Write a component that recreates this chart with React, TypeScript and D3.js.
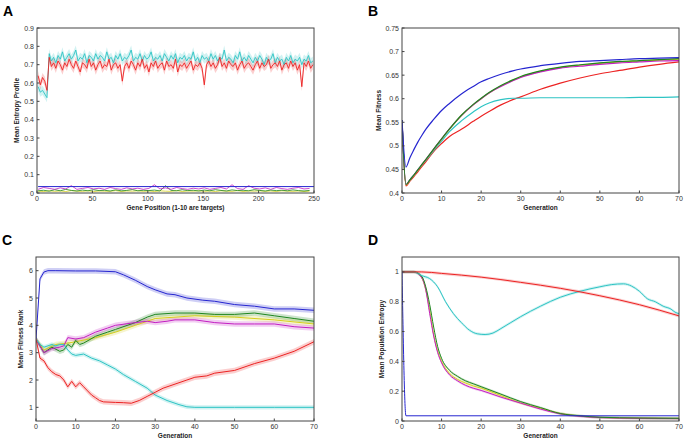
import React from 'react'
import * as d3 from 'd3'

// ---- Panel A: mean entropy profile along the gene ----
const genePos = d3.range(1, 250, 2)
const aCyan = [
  0.58, 0.55, 0.56, 0.54, 0.52,
  0.76, 0.72, 0.74, 0.71, 0.75, 0.73, 0.77, 0.72, 0.74, 0.76,
  0.73, 0.75, 0.78, 0.72, 0.74, 0.73, 0.76, 0.71, 0.75, 0.74,
  0.72, 0.76, 0.73, 0.75, 0.74, 0.72, 0.77, 0.73, 0.74, 0.71,
  0.75, 0.73, 0.76, 0.72, 0.74, 0.73, 0.75, 0.78, 0.72, 0.74,
  0.73, 0.76, 0.72, 0.75, 0.73, 0.74, 0.77, 0.72, 0.74, 0.73,
  0.75, 0.72, 0.76, 0.74, 0.72, 0.75, 0.73, 0.76, 0.71, 0.74,
  0.73, 0.75, 0.72, 0.74, 0.73, 0.77, 0.72, 0.74, 0.71, 0.75,
  0.73, 0.74, 0.72, 0.76, 0.73, 0.75, 0.72, 0.74, 0.73, 0.78,
  0.72, 0.74, 0.73, 0.71, 0.75, 0.73, 0.77, 0.72, 0.74, 0.72,
  0.75, 0.73, 0.71, 0.74, 0.72, 0.75, 0.73, 0.70, 0.74, 0.72,
  0.73, 0.76, 0.71, 0.74, 0.72, 0.73, 0.70, 0.74, 0.72, 0.75,
  0.71, 0.73, 0.72, 0.74, 0.70, 0.73, 0.72, 0.75, 0.71, 0.72,
]
const aRed = [
  0.64, 0.59, 0.63, 0.61, 0.56,
  0.74, 0.69, 0.71, 0.68, 0.72, 0.70, 0.67, 0.71, 0.69, 0.73,
  0.70, 0.68, 0.72, 0.69, 0.66, 0.71, 0.70, 0.68, 0.73, 0.69,
  0.71, 0.67, 0.70, 0.72, 0.68, 0.70, 0.69, 0.73, 0.67, 0.70,
  0.71, 0.68, 0.70, 0.61, 0.69, 0.71, 0.68, 0.72, 0.70, 0.67,
  0.71, 0.69, 0.73, 0.68, 0.70, 0.66, 0.71, 0.69, 0.72, 0.68,
  0.70, 0.71, 0.67, 0.72, 0.69, 0.70, 0.68, 0.73, 0.66, 0.70,
  0.69, 0.71, 0.68, 0.70, 0.72, 0.67, 0.70, 0.69, 0.71, 0.68,
  0.59, 0.70, 0.72, 0.69, 0.71, 0.68, 0.70, 0.74, 0.69, 0.71,
  0.68, 0.72, 0.70, 0.69, 0.71, 0.67, 0.70, 0.72, 0.68, 0.70,
  0.71, 0.69, 0.67, 0.70, 0.72, 0.68, 0.71, 0.69, 0.70, 0.73,
  0.68, 0.70, 0.71, 0.69, 0.72, 0.67, 0.70, 0.71, 0.68, 0.72,
  0.69, 0.71, 0.67, 0.70, 0.58, 0.71, 0.69, 0.72, 0.68, 0.70,
]
const genePosLow = d3.range(1, 251, 5)
const aMagenta = [
  0.02, 0.03, 0.025, 0.02, 0.028, 0.022, 0.04, 0.02, 0.025, 0.03,
  0.022, 0.026, 0.02, 0.03, 0.024, 0.02, 0.028, 0.022, 0.026, 0.02,
  0.025, 0.045, 0.022, 0.028, 0.02, 0.03, 0.024, 0.02, 0.026, 0.022,
  0.028, 0.02, 0.025, 0.03, 0.022, 0.045, 0.024, 0.02, 0.04, 0.026,
  0.022, 0.028, 0.02, 0.03, 0.024, 0.02, 0.026, 0.03, 0.022, 0.025,
]
const aGreen = [
  0.012, 0.015, 0.01, 0.018, 0.012, 0.02, 0.014, 0.011, 0.016, 0.012,
  0.018, 0.013, 0.015, 0.011, 0.017, 0.012, 0.014, 0.019, 0.012, 0.015,
  0.013, 0.016, 0.011, 0.04, 0.014, 0.012, 0.018, 0.013, 0.015, 0.011,
  0.016, 0.012, 0.018, 0.014, 0.011, 0.017, 0.013, 0.015, 0.012, 0.018,
  0.014, 0.011, 0.016, 0.013, 0.015, 0.012, 0.017, 0.013, 0.011, 0.014,
]
const aYellow = [
  0.01, 0.008, 0.012, 0.009, 0.011, 0.008, 0.013, 0.01, 0.009, 0.012,
  0.008, 0.011, 0.01, 0.009, 0.013, 0.008, 0.011, 0.01, 0.012, 0.009,
  0.011, 0.008, 0.012, 0.01, 0.009, 0.013, 0.008, 0.011, 0.01, 0.012,
  0.009, 0.011, 0.008, 0.012, 0.01, 0.009, 0.013, 0.008, 0.011, 0.01,
  0.012, 0.009, 0.011, 0.008, 0.012, 0.01, 0.009, 0.011, 0.008, 0.01,
]
const aBluePos = [1, 250]
const aBlue = [0.035, 0.035]

// ---- Panel B: mean fitness ----
const bGen = [0, 1, 2, 3, 4, 5, 6, 8, 10, 12, 15, 18, 20, 22, 25, 28, 30, 35, 40, 45, 50, 55, 60, 65, 70]
const bBlue = [0.555, 0.455, 0.475, 0.492, 0.508, 0.522, 0.535, 0.556, 0.575, 0.59, 0.61, 0.626, 0.636, 0.643, 0.652, 0.659, 0.663, 0.67, 0.675, 0.679, 0.681, 0.683, 0.685, 0.686, 0.687]
const bGreen = [0.555, 0.418, 0.428, 0.438, 0.449, 0.46, 0.471, 0.493, 0.515, 0.536, 0.565, 0.588, 0.601, 0.613, 0.628, 0.64, 0.647, 0.659, 0.667, 0.672, 0.676, 0.679, 0.681, 0.683, 0.685]
const bYellow = [0.555, 0.417, 0.427, 0.437, 0.448, 0.459, 0.47, 0.492, 0.514, 0.535, 0.564, 0.587, 0.6, 0.612, 0.627, 0.639, 0.646, 0.658, 0.666, 0.671, 0.675, 0.678, 0.68, 0.682, 0.684]
const bMagenta = [0.555, 0.418, 0.428, 0.438, 0.449, 0.46, 0.471, 0.493, 0.515, 0.536, 0.564, 0.587, 0.6, 0.612, 0.626, 0.638, 0.645, 0.657, 0.665, 0.669, 0.673, 0.676, 0.678, 0.68, 0.681]
const bCyan = [0.555, 0.418, 0.428, 0.438, 0.449, 0.459, 0.469, 0.49, 0.51, 0.53, 0.553, 0.572, 0.583, 0.591, 0.598, 0.601, 0.601, 0.602, 0.602, 0.602, 0.602, 0.602, 0.603, 0.603, 0.604]
const bRed = [0.555, 0.415, 0.425, 0.435, 0.445, 0.456, 0.466, 0.488, 0.505, 0.52, 0.535, 0.552, 0.563, 0.573, 0.587, 0.598, 0.604, 0.62, 0.633, 0.644, 0.653, 0.66, 0.667, 0.673, 0.678]

// ---- Panel C: mean fitness rank ----
const cBlueGen = [0, 1, 2, 3, 5, 10, 15, 20, 22, 25, 28, 30, 33, 35, 38, 42, 45, 50, 55, 60, 65, 70]
const cBlue = [3.5, 5.7, 5.95, 6.0, 6.0, 5.99, 5.99, 5.96, 5.85, 5.65, 5.42, 5.3, 5.15, 5.12, 5.0, 4.92, 4.88, 4.76, 4.7, 4.6, 4.6, 4.55]
const cGreenGen = [0, 2, 4, 6, 7, 8, 9, 10, 11, 12, 15, 18, 20, 25, 28, 30, 35, 40, 45, 50, 55, 60, 65, 70]
const cGreen = [3.5, 3.0, 3.2, 3.05, 3.1, 3.3, 3.2, 3.45, 3.3, 3.35, 3.6, 3.75, 3.85, 4.1, 4.3, 4.4, 4.45, 4.45, 4.4, 4.4, 4.45, 4.35, 4.25, 4.15]
const cYellowGen = [0, 2, 5, 8, 10, 15, 20, 25, 30, 35, 40, 50, 60, 70]
const cYellow = [3.5, 3.1, 3.3, 3.35, 3.4, 3.55, 3.75, 4.0, 4.25, 4.3, 4.35, 4.3, 4.2, 4.05]
const cMagentaGen = [0, 2, 4, 6, 7, 8, 10, 12, 15, 18, 20, 25, 28, 30, 33, 35, 40, 45, 50, 55, 60, 65, 70]
const cMagenta = [3.5, 3.0, 3.15, 3.2, 3.25, 3.55, 3.5, 3.55, 3.75, 3.9, 4.0, 4.1, 4.15, 4.1, 4.15, 4.2, 4.2, 4.1, 4.05, 4.05, 4.05, 3.95, 3.9]
const cCyanGen = [0, 1, 2, 3, 4, 5, 6, 7, 8, 9, 10, 12, 14, 16, 18, 20, 22, 25, 28, 30, 33, 36, 38, 40, 50, 60, 70]
const cCyan = [3.5, 3.3, 3.2, 3.25, 3.3, 3.25, 3.3, 3.3, 3.1, 2.95, 2.9, 2.95, 2.8, 2.7, 2.55, 2.4, 2.2, 1.95, 1.7, 1.45, 1.25, 1.1, 1.02, 1.0, 1.0, 1.0, 1.0]
const cRedGen = [0, 1, 2, 3, 4, 5, 6, 7, 8, 9, 10, 11, 12, 13, 14, 15, 16, 17, 20, 22, 24, 26, 28, 30, 32, 35, 38, 40, 43, 45, 50, 55, 60, 65, 70]
const cRed = [3.5, 2.8, 2.7, 2.45, 2.3, 2.2, 2.15, 2.0, 1.75, 1.95, 1.75, 1.9, 1.75, 1.6, 1.45, 1.35, 1.25, 1.2, 1.18, 1.17, 1.15, 1.25, 1.4, 1.55, 1.7, 1.85, 2.0, 2.1, 2.15, 2.25, 2.35, 2.6, 2.8, 3.05, 3.4]

// ---- Panel D: mean population entropy ----
const dBlueGen = [0, 1, 70]
const dBlue = [1.0, 0.035, 0.035]
const dRedGen = [0, 5, 10, 20, 30, 40, 50, 60, 70]
const dRed = [1.0, 1.0, 0.99, 0.965, 0.93, 0.89, 0.84, 0.78, 0.705]
const dCyanGen = [0, 3, 5, 7, 9, 11, 13, 15, 17, 19, 21, 23, 25, 30, 35, 40, 45, 50, 53, 56, 58, 60, 62, 64, 66, 68, 69, 70]
const dCyan = [1.0, 1.0, 0.975, 0.955, 0.9, 0.8, 0.72, 0.66, 0.61, 0.585, 0.58, 0.59, 0.62, 0.7, 0.77, 0.83, 0.87, 0.9, 0.915, 0.92, 0.905, 0.87, 0.82, 0.8, 0.77, 0.75, 0.73, 0.72]
const dDropGen = [0, 3, 5, 6, 7, 8, 9, 10, 12, 14, 16, 18, 20, 25, 30, 35, 40, 45, 50, 60, 70]
const dGreen = [1.0, 1.0, 0.97, 0.9, 0.78, 0.63, 0.5, 0.42, 0.34, 0.3, 0.27, 0.25, 0.23, 0.18, 0.13, 0.09, 0.05, 0.035, 0.025, 0.02, 0.018]
const dYellow = [1.0, 1.0, 0.96, 0.88, 0.74, 0.58, 0.47, 0.4, 0.32, 0.28, 0.255, 0.235, 0.22, 0.17, 0.12, 0.085, 0.05, 0.033, 0.024, 0.019, 0.017]
const dMagenta = [1.0, 1.0, 0.96, 0.88, 0.72, 0.57, 0.46, 0.39, 0.31, 0.27, 0.24, 0.22, 0.205, 0.16, 0.12, 0.08, 0.048, 0.032, 0.023, 0.018, 0.016]

const C = {
  blue: '#2626d0',
  green: '#1f861f',
  yellow: '#d6cf1e',
  magenta: '#c21fc2',
  cyan: '#2ec4c4',
  red: '#ec2323',
}

type Series = { x: number[]; y: number[]; color: string; err?: number; w?: number }

type PanelProps = {
  letter: string
  left: number
  top: number
  right: number
  bottom: number
  xDomain: [number, number]
  yDomain: [number, number]
  xTicks: number[]
  yTicks: number[]
  yFmt: (v: number) => string
  xLabel: string
  yLabel: string
  yLabelX: number
  series: Series[]
  curve: d3.CurveFactory
}

const FONT = '"Liberation Sans", Arial, sans-serif'

function Panel(p: PanelProps) {
  const x = d3.scaleLinear().domain(p.xDomain).range([p.left, p.right])
  const y = d3.scaleLinear().domain(p.yDomain).range([p.bottom, p.top])
  const clipId = 'clip' + p.letter
  const line = (s: Series) =>
    d3.line<number>().x((_, i) => x(s.x[i])).y(d => y(d)).curve(p.curve)(s.y) || ''
  const band = (s: Series) =>
    d3.area<number>()
      .x((_, i) => x(s.x[i]))
      .y0(d => y(d - (s.err || 0)))
      .y1(d => y(d + (s.err || 0)))
      .curve(p.curve)(s.y) || ''
  const midY = (p.top + p.bottom) / 2
  return (
    <g>
      <text x={p.left - 34} y={p.top - 12} fontFamily={FONT} fontWeight="bold" fontSize={14}>{p.letter}</text>
      <clipPath id={clipId}>
        <rect x={p.left} y={p.top} width={p.right - p.left} height={p.bottom - p.top} />
      </clipPath>
      <g clipPath={`url(#${clipId})`}>
        {p.series.filter(s => s.err).map((s, i) => (
          <path key={'b' + i} d={band(s)} fill={s.color} fillOpacity={0.22} stroke="none" />
        ))}
        {p.series.map((s, i) => (
          <path key={'l' + i} d={line(s)} fill="none" stroke={s.color} strokeWidth={s.w || 1} strokeLinejoin="round" />
        ))}
      </g>
      <rect x={p.left} y={p.top} width={p.right - p.left} height={p.bottom - p.top} fill="none" stroke="#444" strokeWidth={1} />
      {p.xTicks.map(t => (
        <g key={'x' + t}>
          <line x1={x(t)} x2={x(t)} y1={p.bottom} y2={p.bottom - 2.5} stroke="#444" />
          <text x={x(t)} y={p.bottom + 8} textAnchor="middle" fontFamily={FONT} fontSize={7} fill="#333">{t}</text>
        </g>
      ))}
      {p.yTicks.map(t => (
        <g key={'y' + t}>
          <line x1={p.left} x2={p.left + 2.5} y1={y(t)} y2={y(t)} stroke="#444" />
          <text x={p.left - 3} y={y(t) + 2.5} textAnchor="end" fontFamily={FONT} fontSize={7} fill="#333">{p.yFmt(t)}</text>
        </g>
      ))}
      <text x={(p.left + p.right) / 2} y={p.bottom + 17} textAnchor="middle" fontFamily={FONT} fontWeight="bold" fontSize={6.5} fill="#222">{p.xLabel}</text>
      <text transform={`translate(${p.yLabelX},${midY}) rotate(-90)`} textAnchor="middle" fontFamily={FONT} fontWeight="bold" fontSize={6.5} fill="#222">{p.yLabel}</text>
    </g>
  )
}

const fmt = (v: number) => String(+v.toFixed(2))

export default function App() {
  return (
    <svg width={686} height={441} style={{ position: 'absolute', left: 0, top: 0, background: '#fff' }}>
      <Panel
        letter="A" left={37} top={28} right={314} bottom={193}
        xDomain={[0, 250]} yDomain={[0, 0.9]}
        xTicks={[0, 50, 100, 150, 200, 250]} yTicks={d3.range(0, 0.95, 0.1)} yFmt={fmt}
        xLabel="Gene Position (1-10 are targets)" yLabel="Mean Entropy Profile" yLabelX={19}
        curve={d3.curveLinear}
        series={[
          { x: genePosLow, y: aYellow, color: C.yellow, w: 0.8 },
          { x: genePosLow, y: aGreen, color: C.green, w: 0.8 },
          { x: genePosLow, y: aMagenta, color: C.magenta, w: 0.8 },
          { x: aBluePos, y: aBlue, color: C.blue },
          { x: genePos, y: aCyan, color: C.cyan, err: 0.025, w: 0.9 },
          { x: genePos, y: aRed, color: C.red, err: 0.025, w: 0.9 },
        ]}
      />
      <Panel
        letter="B" left={402} top={28} right={679} bottom={193}
        xDomain={[0, 70]} yDomain={[0.4, 0.75]}
        xTicks={d3.range(0, 71, 10)} yTicks={d3.range(0.4, 0.751, 0.05)} yFmt={fmt}
        xLabel="Generation" yLabel="Mean Fitness" yLabelX={381}
        curve={d3.curveMonotoneX}
        series={[
          { x: bGen, y: bRed, color: C.red, w: 1.2 },
          { x: bGen, y: bCyan, color: C.cyan, w: 1.2 },
          { x: bGen, y: bYellow, color: C.yellow, w: 1.2 },
          { x: bGen, y: bMagenta, color: C.magenta, w: 1.2 },
          { x: bGen, y: bGreen, color: C.green, w: 1.2 },
          { x: bGen, y: bBlue, color: C.blue, w: 1.2 },
        ]}
      />
      <Panel
        letter="C" left={36} top={257} right={314} bottom={421}
        xDomain={[0, 70]} yDomain={[0.5, 6.5]}
        xTicks={d3.range(0, 71, 10)} yTicks={[1, 2, 3, 4, 5, 6]} yFmt={fmt}
        xLabel="Generation" yLabel="Mean Fitness Rank" yLabelX={23}
        curve={d3.curveLinear}
        series={[
          { x: cYellowGen, y: cYellow, color: C.yellow, err: 0.1 },
          { x: cGreenGen, y: cGreen, color: C.green, err: 0.1 },
          { x: cMagentaGen, y: cMagenta, color: C.magenta, err: 0.1 },
          { x: cCyanGen, y: cCyan, color: C.cyan, err: 0.08 },
          { x: cRedGen, y: cRed, color: C.red, err: 0.1 },
          { x: cBlueGen, y: cBlue, color: C.blue, err: 0.1 },
        ]}
      />
      <Panel
        letter="D" left={402} top={257} right={679} bottom={421}
        xDomain={[0, 70]} yDomain={[0, 1.1]}
        xTicks={d3.range(0, 71, 10)} yTicks={[0, 0.2, 0.4, 0.6, 0.8, 1]} yFmt={fmt}
        xLabel="Generation" yLabel="Mean Population Entropy" yLabelX={384}
        curve={d3.curveMonotoneX}
        series={[
          { x: dDropGen, y: dYellow, color: C.yellow, err: 0.008 },
          { x: dDropGen, y: dMagenta, color: C.magenta, err: 0.008 },
          { x: dDropGen, y: dGreen, color: C.green, err: 0.008 },
          { x: dCyanGen, y: dCyan, color: C.cyan, err: 0.01 },
          { x: dRedGen, y: dRed, color: C.red, err: 0.01 },
          { x: dBlueGen, y: dBlue, color: C.blue },
        ]}
      />
    </svg>
  )
}
